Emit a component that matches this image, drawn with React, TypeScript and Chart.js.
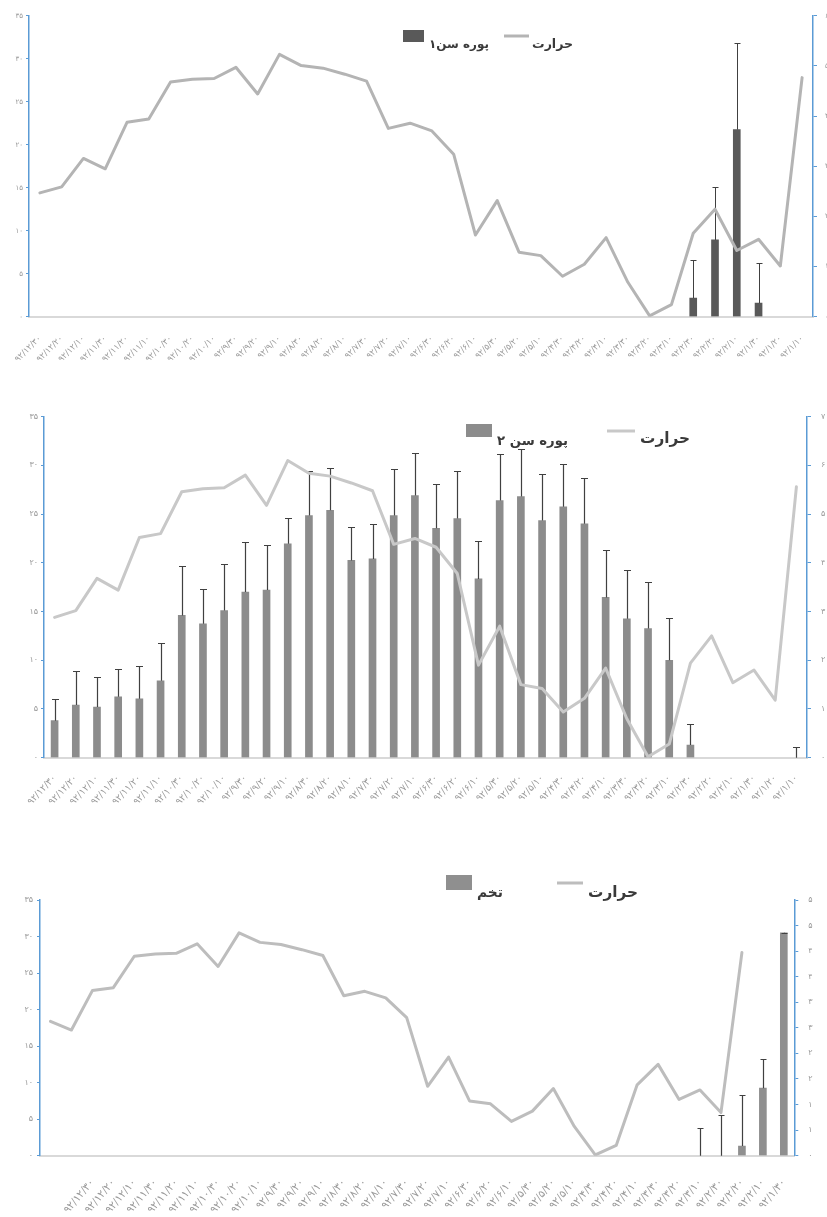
import React, { useEffect, useRef } from 'react';
import { Chart, registerables } from 'chart.js';

Chart.register(...registerables);

// ---------- DATA ----------
const dateLabels = [
  '۹۲/۱۲/۳۰', '۹۲/۱۲/۲۰', '۹۲/۱۲/۱۰',
  '۹۲/۱۱/۳۰', '۹۲/۱۱/۲۰', '۹۲/۱۱/۱۰',
  '۹۲/۱۰/۳۰', '۹۲/۱۰/۲۰', '۹۲/۱۰/۱۰',
  '۹۲/۹/۳۰', '۹۲/۹/۲۰', '۹۲/۹/۱۰',
  '۹۲/۸/۳۰', '۹۲/۸/۲۰', '۹۲/۸/۱۰',
  '۹۲/۷/۳۰', '۹۲/۷/۲۰', '۹۲/۷/۱۰',
  '۹۲/۶/۳۰', '۹۲/۶/۲۰', '۹۲/۶/۱۰',
  '۹۲/۵/۳۰', '۹۲/۵/۲۰', '۹۲/۵/۱۰',
  '۹۲/۴/۳۰', '۹۲/۴/۲۰', '۹۲/۴/۱۰',
  '۹۲/۳/۳۰', '۹۲/۳/۲۰', '۹۲/۳/۱۰',
  '۹۲/۲/۳۰', '۹۲/۲/۲۰', '۹۲/۲/۱۰',
  '۹۲/۱/۳۰', '۹۲/۱/۲۰', '۹۲/۱/۱۰',
];

// temperature (left axis, 0-35)
const temperature = [
  14.4, 15.1, 18.4, 17.2, 22.6, 23.0, 27.3, 27.6, 27.7, 29.0,
  25.9, 30.5, 29.2, 28.9, 28.2, 27.4, 21.9, 22.5, 21.6, 18.9,
  9.5, 13.5, 7.5, 7.1, 4.7, 6.1, 9.2, 4.0, 0.1, 1.4,
  9.7, 12.5, 7.7, 9.0, 5.9, 27.8,
];

// nymph stage 1 (right axis 0-6)
const nymph1Mean = [
  null, null, null, null, null, null, null, null, null, null,
  null, null, null, null, null, null, null, null, null, null,
  null, null, null, null, null, null, null, null, null, null,
  0.37, 1.53, 3.73, 0.27, null, null,
];
const nymph1Err = [
  null, null, null, null, null, null, null, null, null, null,
  null, null, null, null, null, null, null, null, null, null,
  null, null, null, null, null, null, null, null, null, null,
  0.76, 1.06, 1.72, 0.81, null, null,
];

// nymph stage 2 (right axis 0-7)
const nymph2Mean = [
  0.76, 1.08, 1.04, 1.25, 1.21, 1.58, 2.92, 2.75, 3.02, 3.40,
  3.44, 4.39, 4.97, 5.08, 4.05, 4.08, 4.97, 5.38, 4.71, 4.91,
  3.67, 5.28, 5.36, 4.87, 5.15, 4.80, 3.29, 2.85, 2.65, 2.00,
  0.26, null, null, null, null, null,
];
const nymph2Err = [
  0.44, 0.70, 0.61, 0.57, 0.68, 0.78, 1.02, 0.71, 0.95, 1.02,
  0.92, 0.54, 0.91, 0.87, 0.68, 0.71, 0.95, 0.88, 0.90, 0.97,
  0.77, 0.95, 0.97, 0.95, 0.87, 0.95, 0.98, 1.01, 0.95, 0.87,
  0.43, null, null, null, null, 0.21,
];

// eggs (right axis 0-5)
const eggMean = [
  null, null, null, null, null, null, null, null, null, null,
  null, null, null, null, null, null, null, null, null, null,
  null, null, null, null, null, null, null, null, null, null,
  null, null, null, 0.19, 1.32, 4.36,
];
const eggErr = [
  null, null, null, null, null, null, null, null, null, null,
  null, null, null, null, null, null, null, null, null, null,
  null, null, null, null, null, null, null, null, null, null,
  null, 0.54, 0.80, 1.00, 0.57, 0,
];

// third chart: labels start at the third category, temperature line ends two categories early
const eggLabels = ['', '', ...dateLabels.slice(0, 34)];
const eggTemperature = [...temperature.slice(2), null, null];

// ---------- HELPERS ----------
const FA = ['۰', '۱', '۲', '۳', '۴', '۵', '۶', '۷', '۸', '۹'];
const toFa = (n: number) => String(n).replace(/[0-9]/g, (d) => FA[+d]);

const errorBarPlugin = (color: string, width: number, cap: number) => ({
  id: 'errorBars',
  afterDatasetDraw(chart: any, args: any) {
    const ds = chart.data.datasets[args.index];
    if (!ds.errors) return;
    const yScale = chart.scales[args.meta.yAxisID];
    const xScale = chart.scales.x;
    const ctx = chart.ctx;
    ctx.save();
    ctx.strokeStyle = color;
    ctx.lineWidth = width;
    ds.errors.forEach((e: number | null, i: number) => {
      if (e === null || e === undefined) return;
      const v = ds.data[i] || 0;
      const x = Math.round(xScale.getPixelForValue(i)) + 0.5;
      const y0 = yScale.getPixelForValue(v);
      const y1 = Math.round(yScale.getPixelForValue(v + e)) + 0.5;
      ctx.beginPath();
      ctx.moveTo(x, y0);
      ctx.lineTo(x, y1);
      ctx.moveTo(x - cap / 2, y1);
      ctx.lineTo(x + cap / 2, y1);
      ctx.stroke();
    });
    ctx.restore();
  },
});

type LegendItem = {
  kind: 'box' | 'line';
  color: string;
  x: number; y: number; w: number; h: number;
  label: string; tx: number; ty: number; tw: number;
};

const legendPlugin = (items: LegendItem[], textColor: string) => ({
  id: 'customLegend',
  afterDraw(chart: any) {
    const ctx = chart.ctx;
    ctx.save();
    items.forEach((it) => {
      if (it.kind === 'box') {
        ctx.fillStyle = it.color;
        ctx.fillRect(it.x, it.y, it.w, it.h);
      } else {
        ctx.strokeStyle = it.color;
        ctx.lineWidth = it.h;
        ctx.beginPath();
        ctx.moveTo(it.x, it.y);
        ctx.lineTo(it.x + it.w, it.y);
        ctx.stroke();
      }
      ctx.direction = 'rtl';
      ctx.font = 'bold 10px "DejaVu Sans"';
      const m = ctx.measureText(it.label).width;
      const size = Math.min(18, (10 * it.tw) / m);
      ctx.font = `bold ${size}px "DejaVu Sans"`;
      ctx.fillStyle = textColor;
      ctx.textAlign = 'right';
      ctx.textBaseline = 'middle';
      ctx.fillText(it.label, it.tx + it.tw, it.ty);
    });
    ctx.restore();
  },
});

type PanelSpec = {
  labels: string[];
  temp: (number | null)[];
  bars: (number | null)[];
  errors: (number | null)[];
  barLabel: string;
  barColor: string;
  lineColor: string;
  rightMax: number;
  rightStep: number;
  padTop: number;
  leftWidth: number;
  rightWidth: number;
  xHeight: number;
  tickFont: number;
  leftPad: number;
  rightPad: number;
  xPad: number;
  xFont: number;
  xRot: number;
  errColor: string;
  errWidth: number;
  errCap: number;
  legend: LegendItem[];
};

function makeConfig(p: PanelSpec): any {
  const tickColor = '#9a9a9a';
  const blue = '#5b9bd5';
  return {
    type: 'bar',
    data: {
      labels: p.labels,
      datasets: [
        {
          type: 'line',
          label: 'حرارت',
          data: p.temp,
          yAxisID: 'y',
          borderColor: p.lineColor,
          borderWidth: 3,
          pointRadius: 0,
          tension: 0,
          borderJoinStyle: 'round',
          borderCapStyle: 'round',
          order: 0,
        },
        {
          type: 'bar',
          label: p.barLabel,
          data: p.bars,
          errors: p.errors,
          yAxisID: 'y1',
          backgroundColor: p.barColor,
          barThickness: 7,
          order: 1,
        },
      ],
    },
    options: {
      responsive: false,
      animation: false,
      layout: { padding: { top: p.padTop, left: 0, right: 0, bottom: 0 } },
      plugins: { legend: { display: false }, tooltip: { enabled: false } },
      scales: {
        x: {
          type: 'category',
          offset: true,
          grid: { display: false },
          border: { display: true, color: '#d9d9d9', width: 2 },
          ticks: {
            autoSkip: false,
            maxRotation: p.xRot,
            minRotation: p.xRot,
            color: tickColor,
            padding: p.xPad,
            font: { size: p.xFont, family: '"DejaVu Sans"' },
          },
          afterFit: (s: any) => { s.height = p.xHeight; },
        },
        y: {
          type: 'linear',
          position: 'left',
          min: 0,
          max: 35,
          ticks: {
            stepSize: 5,
            color: tickColor,
            padding: p.leftPad,
            font: { size: p.tickFont, family: '"DejaVu Sans"' },
            callback: (v: number) => toFa(v),
          },
          grid: { display: true, drawOnChartArea: false, drawTicks: true, tickLength: 3, color: blue, lineWidth: 1 },
          border: { display: true, color: blue, width: 1.5 },
          afterFit: (s: any) => { s.width = p.leftWidth; },
        },
        y1: {
          type: 'linear',
          position: 'right',
          min: 0,
          max: p.rightMax,
          ticks: {
            stepSize: p.rightStep,
            color: tickColor,
            padding: p.rightPad,
            font: { size: p.tickFont, family: '"DejaVu Sans"' },
            callback: (v: number) => toFa(Math.round(v)),
          },
          grid: { display: true, drawOnChartArea: false, drawTicks: true, tickLength: 4, color: blue, lineWidth: 1 },
          border: { display: true, color: blue, width: 1.5 },
          afterFit: (s: any) => { s.width = p.rightWidth; },
        },
      },
    },
    plugins: [errorBarPlugin(p.errColor, p.errWidth, p.errCap), legendPlugin(p.legend, '#3a3a3a')],
  };
}

function ChartCanvas({ top, width, height, spec }: { top: number; width: number; height: number; spec: PanelSpec }) {
  const ref = useRef<HTMLCanvasElement>(null);
  useEffect(() => {
    const chart = new Chart(ref.current as HTMLCanvasElement, makeConfig(spec));
    return () => chart.destroy();
  }, []);
  return (
    <canvas
      ref={ref}
      width={width}
      height={height}
      style={{ position: 'absolute', left: 0, top, width, height }}
    />
  );
}

const W = 845;

const spec1: PanelSpec = {
  labels: dateLabels,
  temp: temperature,
  bars: nymph1Mean,
  errors: nymph1Err,
  barLabel: 'پوره سن۱',
  barColor: '#595959',
  lineColor: '#b4b4b4',
  rightMax: 6,
  rightStep: 1,
  padTop: 15.7,
  leftWidth: 29,
  rightWidth: W - 813,
  xHeight: 380 - 316.7,
  tickFont: 7,
  leftPad: 3,
  rightPad: 8,
  xPad: 9,
  xFont: 8.5,
  xRot: 45,
  errColor: '#404040',
  errWidth: 1,
  errCap: 6,
  legend: [
    { kind: 'box', color: '#595959', x: 403, y: 30, w: 21, h: 12, label: 'پوره سن۱', tx: 429, ty: 45, tw: 60 },
    { kind: 'line', color: '#b4b4b4', x: 504, y: 36, w: 25, h: 3, label: 'حرارت', tx: 532, ty: 45, tw: 41 },
  ],
};

const TOP2 = 385;
const spec2: PanelSpec = {
  labels: dateLabels,
  temp: temperature,
  bars: nymph2Mean,
  errors: nymph2Err,
  barLabel: 'پوره سن ۲',
  barColor: '#8c8c8c',
  lineColor: '#c8c8c8',
  rightMax: 7,
  rightStep: 1,
  padTop: 416.7 - TOP2,
  leftWidth: 44,
  rightWidth: W - 807,
  xHeight: 430 - (757.7 - TOP2),
  tickFont: 8,
  leftPad: 3,
  rightPad: 10,
  xPad: 7,
  xFont: 9.5,
  xRot: 47,
  errColor: '#404040',
  errWidth: 1.2,
  errCap: 7,
  legend: [
    { kind: 'box', color: '#8c8c8c', x: 466, y: 424 - TOP2, w: 26, h: 13, label: 'پوره سن ۲', tx: 497, ty: 442 - TOP2, tw: 71 },
    { kind: 'line', color: '#c8c8c8', x: 607, y: 431 - TOP2, w: 28, h: 3, label: 'حرارت', tx: 640, ty: 439 - TOP2, tw: 50 },
  ],
};

const TOP3 = 815;
const spec3: PanelSpec = {
  labels: eggLabels,
  temp: eggTemperature,
  bars: eggMean,
  errors: eggErr,
  barLabel: 'تخم',
  barColor: '#8f8f8f',
  lineColor: '#bdbdbd',
  rightMax: 5,
  rightStep: 0.5,
  padTop: 900 - TOP3,
  leftWidth: 40,
  rightWidth: W - 794.3,
  xHeight: 402 - (1155.7 - TOP3),
  tickFont: 8,
  leftPad: 4,
  rightPad: 10,
  xPad: 13,
  xFont: 10.5,
  xRot: 50,
  errColor: '#404040',
  errWidth: 1.2,
  errCap: 6,
  legend: [
    { kind: 'box', color: '#8f8f8f', x: 446, y: 875 - TOP3, w: 26, h: 15, label: 'تخم', tx: 477, ty: 893 - TOP3, tw: 26 },
    { kind: 'line', color: '#bdbdbd', x: 557, y: 883 - TOP3, w: 26, h: 3, label: 'حرارت', tx: 588, ty: 893 - TOP3, tw: 50 },
  ],
};

export default function App() {
  return (
    <div
      style={{
        position: 'absolute',
        left: 0,
        top: 0,
        width: 827,
        height: 1217,
        overflow: 'hidden',
        background: '#ffffff',
      }}
    >
      <ChartCanvas top={0} width={W} height={380} spec={spec1} />
      <ChartCanvas top={TOP2} width={W} height={430} spec={spec2} />
      <ChartCanvas top={TOP3} width={W} height={402} spec={spec3} />
    </div>
  );
}
